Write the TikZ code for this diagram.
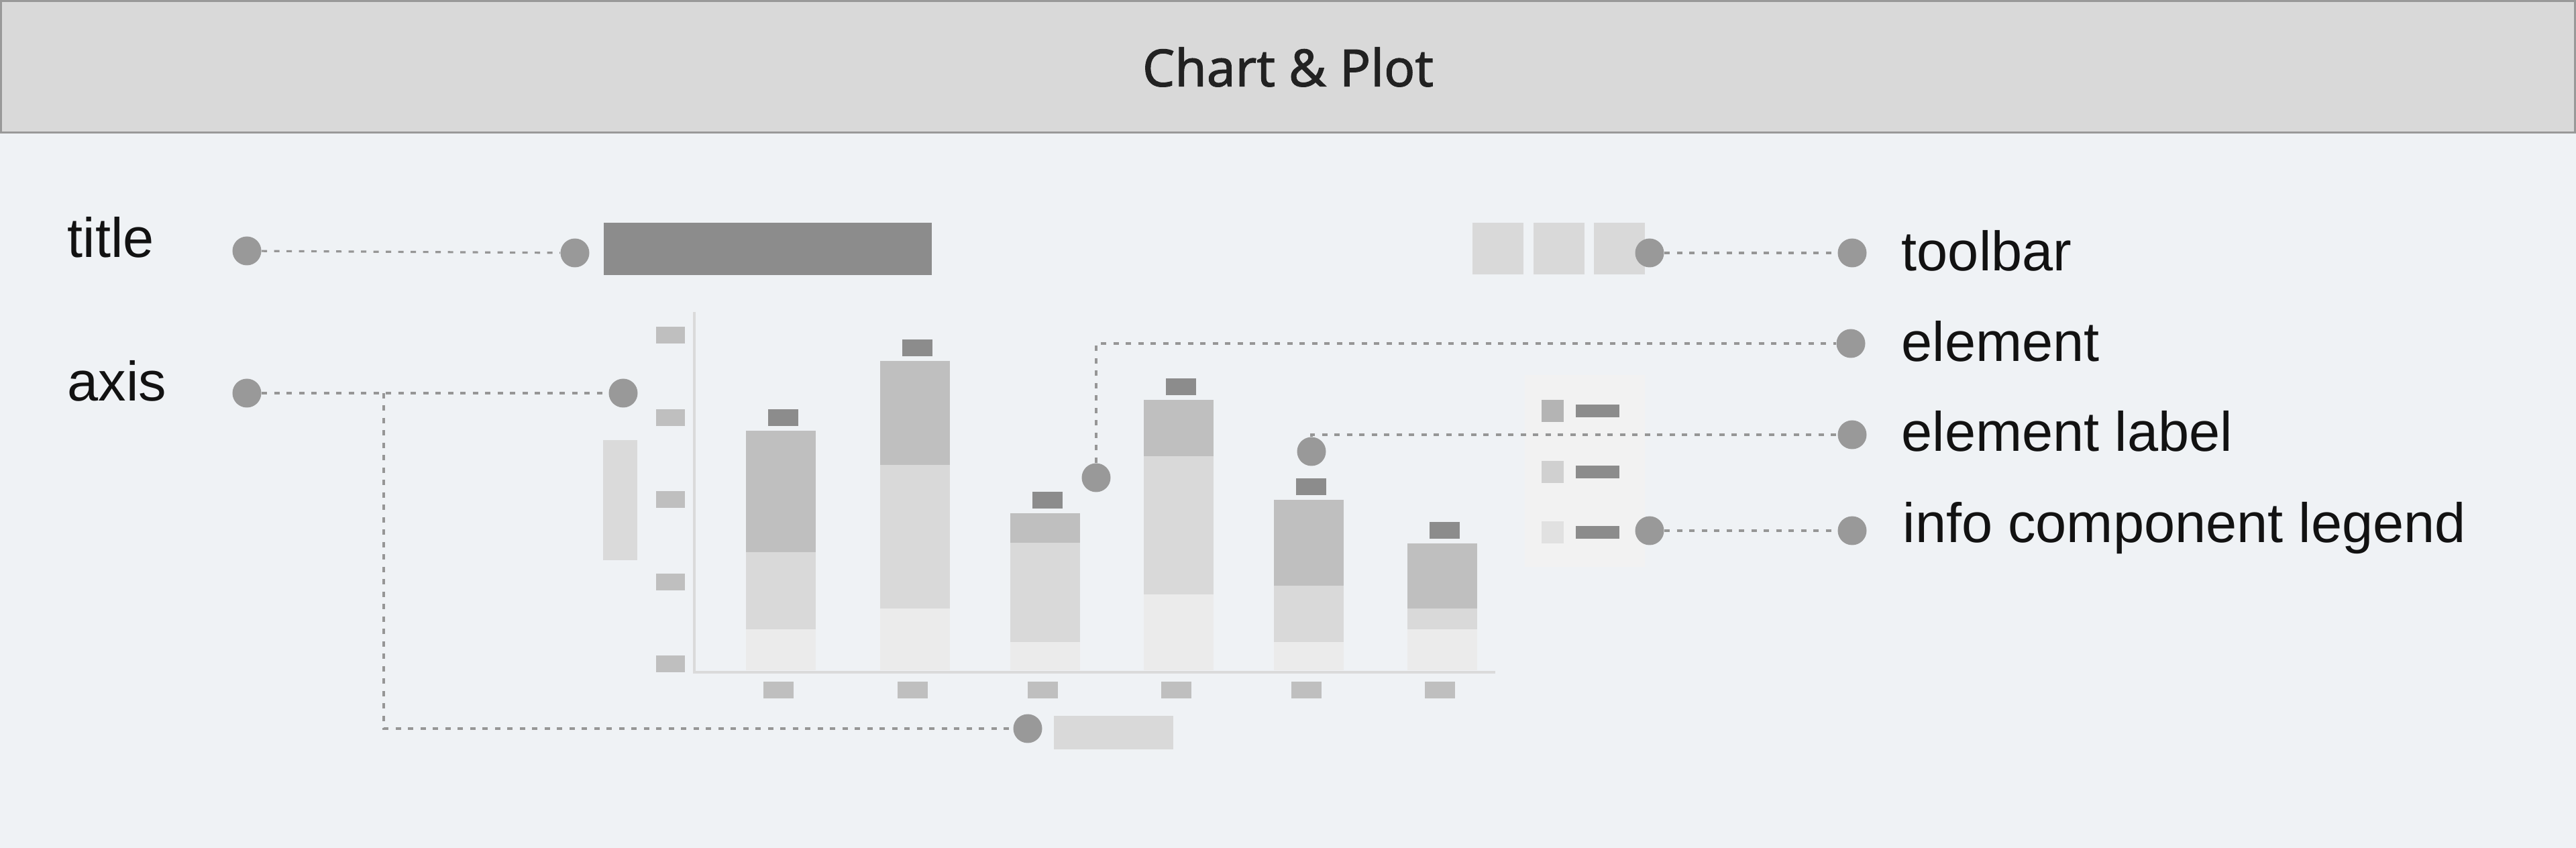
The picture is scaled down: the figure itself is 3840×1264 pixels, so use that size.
\documentclass[tikz,border=0pt]{standalone}
\usepackage{fontspec}
\setmainfont{Liberation Sans}
\newfontfamily\headfont[FakeBold=1.3]{Noto Sans}
\usetikzlibrary{calc}
\definecolor{bgc}{RGB}{239,242,245}
\definecolor{headc}{RGB}{217,217,217}
\definecolor{borderc}{RGB}{153,153,153}
\definecolor{headtxt}{RGB}{34,34,34}
\definecolor{dotc}{RGB}{153,153,153}
\definecolor{linec}{RGB}{150,150,150}
\definecolor{darkc}{RGB}{140,140,140}
\definecolor{toolc}{RGB}{217,217,217}
\definecolor{tickc}{RGB}{191,191,191}
\definecolor{axisc}{RGB}{218,218,218}
\definecolor{bara}{RGB}{191,191,191}
\definecolor{barb}{RGB}{217,217,217}
\definecolor{barc}{RGB}{235,235,235}
\definecolor{legc}{RGB}{242,242,242}
\definecolor{swa}{RGB}{180,180,180}
\definecolor{swb}{RGB}{208,208,208}
\definecolor{swc}{RGB}{225,225,225}

\begin{document}
\begin{tikzpicture}[x=0.1mm,y=-0.1mm,
  dot/.style={circle,fill=dotc,inner sep=0,minimum size=4.3mm},
  lead/.style={linec,line width=0.32mm,dash pattern=on 0.8mm off 1.05mm},
  lbl/.style={anchor=base west,inner sep=0,text=black!93,font=\fontsize{23.6}{28}\selectfont}]
\useasboundingbox (0,0) rectangle (3840,1264);
\fill[bgc] (0,0) rectangle (3840,1264);
\draw[fill=headc,draw=borderc,line width=0.3mm] (1.5,1.5) rectangle (3838.5,198);
\node[font=\headfont\fontsize{21.8}{26}\selectfont,text=headtxt] (head) at (1920,100) {Chart \& Plot};
\fill[darkc] (900,332) rectangle (1389,410);
\foreach \x in {2195,2286,2376}{\fill[toolc] (\x,332) rectangle ++(76,77);}
\foreach \y in {487,610,732,855,977}{\fill[tickc] (978,\y) rectangle ++(43,25);}
\fill[axisc] (899,656) rectangle (950,835);
\draw[axisc,line width=0.45mm] (1035,465) -- (1035,1002) -- (2229,1002);
\foreach \l/\t/\a/\b in {1112/642/823/938,1312/538/693/907,1506/765/809/957,1705/596/680/886,1899/745/873/957,2098/810/907/938}{
  \fill[barc] (\l,\b) rectangle (\l+104,999);
  \fill[barb] (\l,\a) rectangle (\l+104,\b);
  \fill[bara] (\l,\t) rectangle (\l+104,\a);
  \fill[darkc] (\l+33,\t-32) rectangle (\l+78,\t-7);
  \fill[tickc] (\l+26,1016) rectangle (\l+71,1041);
}
\fill[headc] (1571,1067) rectangle (1749,1117);
\fill[legc] (2273,559) rectangle (2452,845);
\foreach \y/\c in {596/swa,687/swb,777/swc}{
  \fill[\c] (2298,\y) rectangle (2331,\y+33);
  \fill[darkc] (2349,\y+7) rectangle (2414,\y+26);
}
\node[dot] (titleL) at (368,374) {};
\node[dot] (titleR) at (857,377) {};
\node[dot] (axisL) at (368,586) {};
\node[dot] (axisR) at (929,586) {};
\coordinate (axisJ) at (572,586);
\node[dot] (xtitle) at (1532,1086) {};
\node[dot] (elem) at (1634,712) {};
\node[dot] (elemR) at (2759,512) {};
\node[dot] (elabel) at (1955,673) {};
\node[dot] (elabelR) at (2761,648) {};
\node[dot] (toolL) at (2459,377) {};
\node[dot] (toolR) at (2761,377) {};
\node[dot] (legL) at (2459,791) {};
\node[dot] (legR) at (2761,791) {};
\draw[lead] (titleL) -- (titleR);
\draw[lead] (axisL) -- (axisR);
\draw[lead] (axisJ) |- (xtitle);
\draw[lead] (elem) |- (elemR);
\draw[lead] (elabel) |- (elabelR);
\draw[lead] (toolL) -- (toolR);
\draw[lead] (legL) -- (legR);
\node[lbl] (ttl) at (100,384) {title};
\node[lbl] (axs) at (100,598) {axis};
\node[lbl] (tbr) at (2834,404) {toolbar};
\node[lbl] (elt) at (2834,539) {element};
\node[lbl] (elb) at (2834,673) {element label};
\node[lbl] (icl) at (2836,809) {info component legend};
\end{tikzpicture}
\end{document}
